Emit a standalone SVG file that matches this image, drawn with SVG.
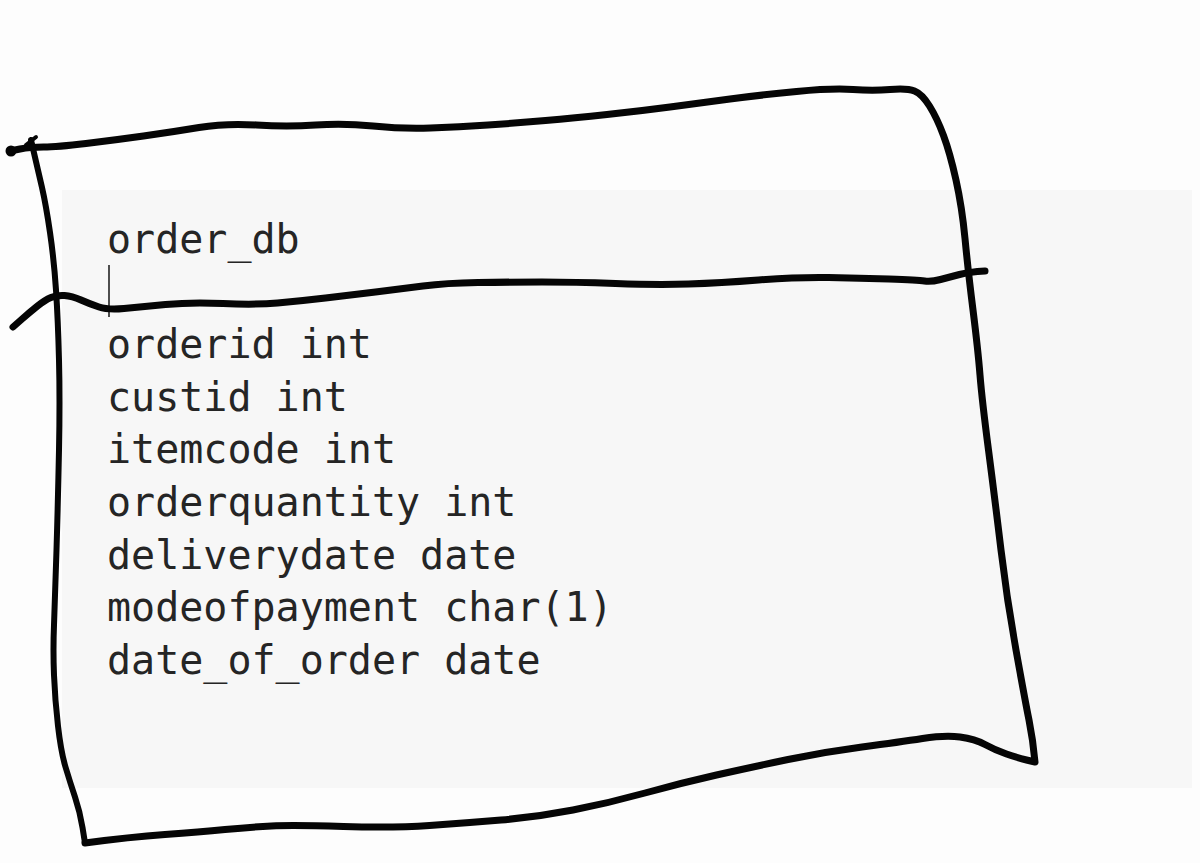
<svg xmlns="http://www.w3.org/2000/svg" width="1200" height="863" viewBox="0 0 1200 863">
  <style>
    .ink { fill: none; stroke: #050505; stroke-linecap: round; stroke-linejoin: round; }
    .mono { font-family: "DejaVu Sans Mono", "Liberation Mono", monospace; font-size: 40px; fill: #252525; }
  </style>
  <rect x="0" y="0" width="1200" height="863" fill="#fdfdfd"/>
  <rect x="62" y="190" width="1130" height="598" fill="#f7f7f7"/>

  <g id="table-title">
    <text class="mono" x="107" y="253">order_db</text>
    <line x1="109" y1="265" x2="109" y2="317" stroke="#222222" stroke-width="1.6"/>
  </g>

  <g id="table-fields">
    <text class="mono" x="107" y="358">orderid int</text>
    <text class="mono" x="107" y="411">custid int</text>
    <text class="mono" x="107" y="463">itemcode int</text>
    <text class="mono" x="107" y="516">orderquantity int</text>
    <text class="mono" x="107" y="569">deliverydate date</text>
    <text class="mono" x="107" y="621">modeofpayment char(1)</text>
    <text class="mono" x="107" y="674">date_of_order date</text>
  </g>

  <g id="table-outline">
    <circle cx="11" cy="151" r="5.5" fill="#050505"/>
    <path class="ink" stroke-width="7" d="M10,151 L20,149 Q30,147 43.5,147 Q57,147 86,143.5 Q115,140 143.5,136 Q172,132 199,127.5 Q226,123 256.5,125 Q287,127 315.5,125 Q344,123 373,126 Q402,129 430.5,128 Q459,127 488,125 Q517,123 545.5,120.5 Q574,118 607,114.5 Q640,111 670,107 Q700,103 730,99 Q760,95 796.5,91.5 Q833,88 853,89.5 Q873,91 890,89.5 Q907,88 914.5,91 Q922,94 929.5,106 Q937,118 943.5,135.5 Q950,153 956,180 Q962,207 965,238.5 Q968,270 973,310 Q978,350 980,375 Q982,400 988.5,450 Q995,500 1001,550 Q1007,600 1016,650 Q1025,700 1029,720 Q1033,740 1035,762 L1026.5,760 Q1018,758 1006.5,754 Q995,750 985,744.5 Q975,739 960,737 Q945,735 922.5,738.5 Q900,742 862,747 Q824,752 788,759.5 Q752,767 716.5,775 Q681,783 645,793 Q609,803 573,810 Q537,817 501,820 Q465,823 429.5,825.5 Q394,828 343.5,826.5 Q293,825 271.5,826 Q250,827 225,829.5 Q200,832 165,834.5 Q130,837 85,843"/>
    <path class="ink" stroke-width="6" d="M85,843 L82.5,827.5 Q80,812 75,797 Q70,782 65.5,767 Q61,752 58,726 Q55,700 54,675 Q53,650 54,625 Q55,600 56.5,550 Q58,500 59,450 Q60,400 59,360 Q58,320 56,290 Q54,260 50,232.5 Q46,205 42,187.5 Q38,170 31,140"/>
    <path class="ink" stroke-width="4" d="M26,145 L36,137"/>
    <path class="ink" stroke-width="7" d="M13,327 L21.5,319.5 Q30,312 37.5,306 Q45,300 51,297.5 Q57,295 64.5,295.5 Q72,296 81,300 Q90,304 99,307 Q108,310 124,308.5 Q140,307 165.5,304.5 Q191,302 223,303.5 Q255,305 277.5,303 Q300,301 325.5,298 Q351,295 375.5,292 Q400,289 423,286 Q446,283 478,282.5 Q510,282 542,282 Q574,282 615.5,283.5 Q657,285 688.5,284 Q720,283 758.5,280 Q797,277 828.5,277.5 Q860,278 889,279 Q918,280 924.5,281 Q931,282 940.5,279.5 Q950,277 959.5,274.5 Q969,272 985,271"/>
  </g>
</svg>
